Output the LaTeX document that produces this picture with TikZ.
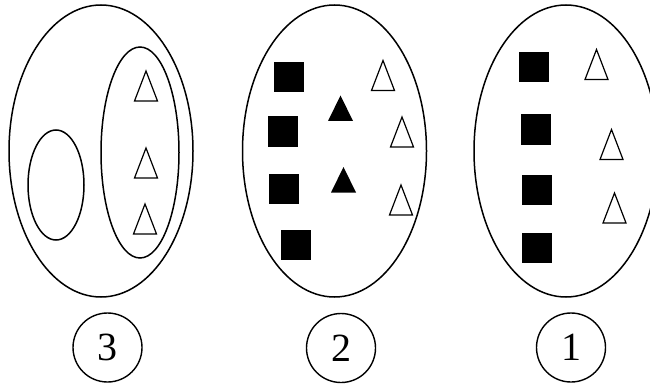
\documentclass[tikz,border=0pt]{standalone}
\usepackage{fontspec}
\setmainfont{Liberation Serif}
\usetikzlibrary{shapes.geometric}
\tikzset{
x=1pt, y=-1pt, % one unit is one pixel of the reference, y grows downwards
set/.style={draw, ellipse, line width=1.5pt, inner sep=0pt}, % the outlines of the sets
box/.style={fill=black, minimum size=30pt, inner sep=0pt}, % black squares
tag/.style={draw, circle, line width=1.4pt, minimum size=69pt, inner sep=0pt, font=\fontsize{40}{40}\selectfont}, % numbered circles
opentri/.pic={\draw[line width=1.2pt] (-11.5,15) -- (0,-15) -- (11.5,15) -- cycle;},
filltri/.pic={\fill (-12.5,12.5) -- (0,-13) -- (12.5,12.5) -- cycle;},
}
\begin{document}
\begin{tikzpicture}
    \useasboundingbox (0,0) rectangle (650,385);
    \clip (0,0) rectangle (650,385);

    % set 3: two subsets, one holding the white triangles
    \node[set, minimum width=184pt, minimum height=292pt] (s3) at (101,151) {};
    \node[set, minimum width=56pt, minimum height=110pt] (s3a) at (56,185) {};
    \node[set, minimum width=78pt, minimum height=211pt] (s3b) at (140,152.5) {};
    \pic (t31) at (146,86) {opentri};
    \pic (t32) at (146,163) {opentri};
    \pic (t33) at (145,219) {opentri};
    \node[tag] (n3) at (107.5,347.5) {3};

    % set 2: squares, black and white triangles
    \node[set, minimum width=184pt, minimum height=292pt] (s2) at (334.5,151) {};
    \node[box] (b21) at (288.5,77) {};
    \node[box] (b22) at (283,131.5) {};
    \node[box] (b23) at (284,188.5) {};
    \node[box] (b24) at (296,244.5) {};
    \pic (f21) at (340.5,108.5) {filltri};
    \pic (f22) at (343.5,180) {filltri};
    \pic (t21) at (383,75.5) {opentri};
    \pic (t22) at (402,132) {opentri};
    \pic (t23) at (401,200) {opentri};
    \node[tag] (n2) at (341,348) {2};

    % set 1: squares and white triangles
    \node[set, minimum width=184pt, minimum height=292pt] (s1) at (566,151) {};
    \node[box] (b11) at (534,67) {};
    \node[box] (b12) at (536,129.5) {};
    \node[box] (b13) at (536.5,190) {};
    \node[box] (b14) at (537,248) {};
    \pic (t11) at (596.5,64.5) {opentri};
    \pic (t12) at (611.5,144.5) {opentri};
    \pic (t13) at (614.5,208) {opentri};
    \node[tag] (n1) at (571,347.5) {1};
\end{tikzpicture}
\end{document}
